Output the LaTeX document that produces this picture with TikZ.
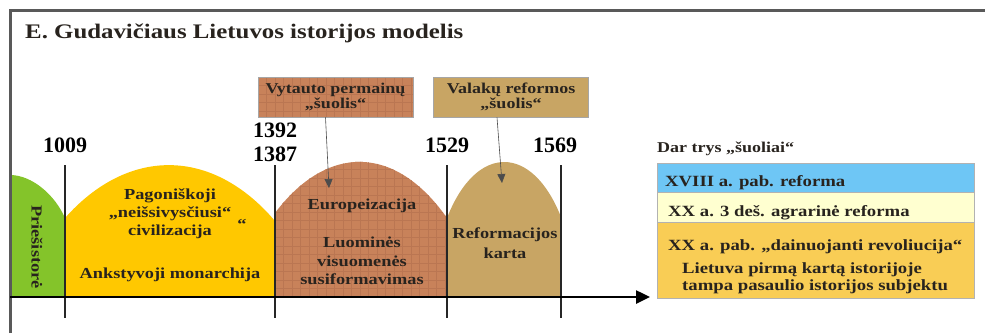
\documentclass[tikz,border=0pt]{standalone}
\usepackage{fontspec}
\setmainfont{Liberation Serif}[FakeStretch=1.2]
\newfontfamily\yearfont{Liberation Serif}
\usetikzlibrary{arrows.meta}

\definecolor{prehist}{RGB}{132,196,42}
\definecolor{pagan}{RGB}{255,200,0}
\definecolor{europe}{RGB}{200,130,90}
\definecolor{europegrid}{RGB}{186,118,82}
\definecolor{reform}{RGB}{200,165,100}
\definecolor{xviii}{RGB}{110,198,245}
\definecolor{agrar}{RGB}{255,255,208}
\definecolor{sing}{RGB}{249,205,85}
\definecolor{ink}{RGB}{40,35,30}

\tikzset{
  lbl/.style={font=\bfseries\fontsize{15.3}{18}\selectfont, text=ink, align=center, inner sep=0pt},
  year/.style={font=\yearfont\bfseries\fontsize{22}{24}\selectfont, align=center, inner sep=0pt},
  tick/.style={line width=2.5pt, black!85},
  gridfill/.style={path picture={
    \foreach \k in {0,...,30} {
      \draw[europegrid, line width=0.3pt] ([xshift=\k*8.5pt]path picture bounding box.north west) -- ([xshift=\k*8.5pt]path picture bounding box.south west);
      \draw[europegrid, line width=0.3pt] ([yshift=-\k*8.5pt]path picture bounding box.north west) -- ([yshift=-\k*8.5pt]path picture bounding box.north east);
    }}},
  leap/.style={lbl, font=\bfseries\fontsize{15}{15}\selectfont, draw=gray!70, line width=0.8pt, minimum width=155pt, minimum height=40pt},
  pointer/.style={draw=black!70, line width=0.6pt, -{Triangle[length=9pt,width=8pt]}},
  row/.style={draw=gray!60, line width=0.8pt, minimum width=317pt, inner sep=0pt, anchor=north west},
  rowtext/.style={font=\bfseries\fontsize{15.6}{18}\selectfont, text=ink, inner sep=0pt, anchor=base west}
}

\begin{document}
\begin{tikzpicture}[x=1pt,y=-1pt]
\useasboundingbox (0,0) rectangle (985,333);

\fill[prehist] (10,297) -- (10,175) .. controls (32,175) and (55,195) .. (65,218) -- (65,297) -- cycle;
\fill[pagan] (65,297) -- (65,218) .. controls (128,147) and (212,147) .. (275,221) -- (275,297) -- cycle;
\path[fill=europe, gridfill] (275,297) -- (275,213) .. controls (327,144) and (395,144) .. (447,218) -- (447,297) -- cycle;
\fill[reform] (447,297) -- (447,218) .. controls (476,143.5) and (532,143.5) .. (561,217) -- (561,297) -- cycle;

\draw[line width=3pt, black!65] (10,333) -- (10,10) -- (985,10);
\node[font=\bfseries\fontsize{20.7}{24}\selectfont, text=ink, inner sep=0pt, anchor=base west] (title) at (25,38) {E. Gudavičiaus Lietuvos istorijos modelis};

\foreach \x in {65,275,447,561}
  \draw[tick] (\x,165) -- (\x,318);
\draw[line width=2.5pt, -{Triangle[length=14pt,width=13pt]}] (10,297) -- (650,297);

\node[year, anchor=base] (y1009) at (65,152) {1009};
\node[year, anchor=south] (y1387) at (275,162) {1392\\1387};
\node[year, anchor=base] (y1529) at (447,152) {1529};
\node[year, anchor=base] (y1569) at (555,152) {1569};

\node[lbl, rotate=-90] (prehistory) at (37,247) {Priešistorė};
\node[lbl] (civilization) at (170,214) {Pagoniškoji\\„neišsivysčiusi“\\civilizacija};
\node[lbl] (strayquote) at (242,224) {“};
\node[lbl, anchor=base] (monarchy) at (170,278) {Ankstyvoji monarchija};
\node[lbl, anchor=base] (europeization) at (362,209) {Europeizacija};
\node[lbl, font=\bfseries\fontsize{15.3}{18.5}\selectfont] (estates) at (362,261) {Luominės\\visuomenės\\susiformavimas};
\node[lbl, font=\bfseries\fontsize{15.3}{20}\selectfont] (reformation) at (505,243) {Reformacijos\\karta};

\node[leap, fill=europe, gridfill] (vytautas) at (335.5,97) {Vytauto permainų\\„šuolis“};
\node[leap, fill=reform] (valakai) at (511,97) {Valakų reformos\\„šuolis“};
\coordinate (eurotip) at (329,188);
\coordinate (reformtip) at (502,183);
\draw[pointer] ([xshift=-10pt]vytautas.south) -- (eurotip);
\draw[pointer] ([xshift=-14pt]valakai.south) -- (reformtip);

\node[font=\bfseries\fontsize{15}{18}\selectfont, text=ink, inner sep=0pt, anchor=base west] (more) at (657,152) {Dar trys „šuoliai“};
\node[row, fill=xviii, minimum height=29pt] (r1) at (657,163) {};
\node[row, fill=agrar, minimum height=30pt] (r2) at (657,192) {};
\node[row, fill=sing, minimum height=76pt] (r3) at (657,222) {};
\node[rowtext] (t1) at (665,186) {XVIII a. pab. reforma};
\node[rowtext] (t2) at (668,216) {XX a. 3 deš. agrarinė reforma};
\node[rowtext] (t3) at (668,250) {XX a. pab. „dainuojanti revoliucija“};
\node[rowtext] (t4) at (682,273) {Lietuva pirmą kartą istorijoje};
\node[rowtext] (t5) at (682,290) {tampa pasaulio istorijos subjektu};
\end{tikzpicture}
\end{document}
